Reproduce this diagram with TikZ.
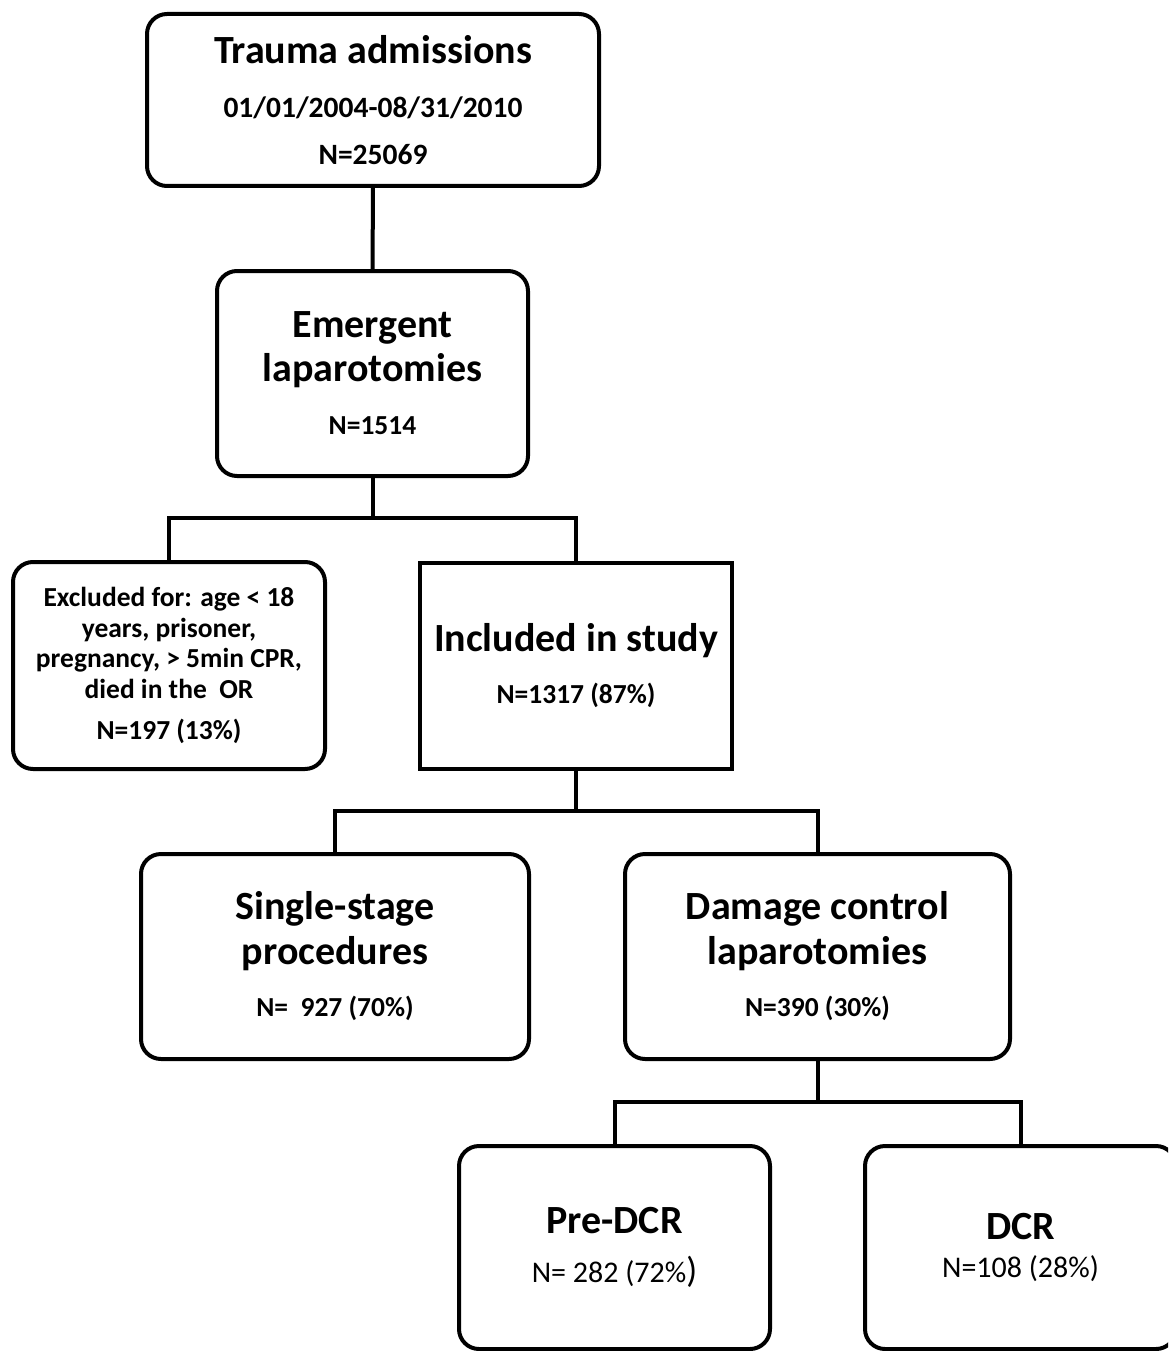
\documentclass[tikz,border=0pt]{standalone}
\usepackage{fontspec}
\setmainfont{Carlito}
\begin{document}
\begin{tikzpicture}[x=1pt,y=-1pt,
  box/.style={draw, line width=4pt, rounded corners=20pt, inner sep=0pt, outer sep=0pt,
    align=center, font=\bfseries\fontsize{40}{46}\selectfont},
  sqbox/.style={box, sharp corners},
  conn/.style={line width=4pt}]
\useasboundingbox (0,0) rectangle (1168,1351);
\clip (0,0) rectangle (1168,1351);
\newcommand\subf{\fontsize{29.5}{34}\selectfont}
\newcommand\smf{\fontsize{27.5}{31}\selectfont}
\newcommand\regf{\mdseries\fontsize{30}{34}\selectfont}

\node[box, minimum width=452pt, minimum height=172pt] (b1) at (373,100)
  {Trauma admissions\\[8pt]{\subf 01/01/2004-08/31/2010}\\[1pt]{\subf N=25069}};
\node[box, minimum width=311pt, minimum height=205pt] (b2) at (372.5,373.5)
  {Emergent\\[-2pt]laparotomies\\[7pt]{\smf N=1514}};
\node[box, minimum width=312pt, minimum height=207pt, font=\bfseries\fontsize{27.5}{30.5}\selectfont] (b3) at (169,665.5)
  {Excluded for: age < 18\\years, prisoner,\\pregnancy, > 5min CPR,\\died in the\ \ OR\\[10.5pt]N=197 (13\%)};
\node[sqbox, minimum width=312pt, minimum height=206pt] (b4) at (576,666)
  {Included in study\\[6pt]{\smf N=1317 (87\%)}};
\node[box, minimum width=388pt, minimum height=205pt] (b5) at (335,956.5)
  {Single-stage\\[-1pt]procedures\\[6pt]{\smf N=\ \ 927 (70\%)}};
\node[box, minimum width=385pt, minimum height=205pt] (b6) at (817.5,956.5)
  {Damage control\\[-1pt]laparotomies\\[6pt]{\smf N=390 (30\%)}};
\node[box, minimum width=311pt, minimum height=203pt] (b7) at (614.5,1247.5)
  {Pre-DCR\\[3pt]{\regf N= 282 (72\%{\fontsize{36}{36}\selectfont )}}};
\node[box, minimum width=311pt, minimum height=203pt] (b8) at (1020.5,1247.5)
  {DCR\\[-8pt]{\regf N=108 (28\%)}};

\draw[conn] (b1.south) -- (b2.north);
\draw[conn] (b2.south) -- ++(0,42) coordinate (j1);
\draw[conn] (b3.north) |- (j1) -| (b4.north);
\draw[conn] (b4.south) -- ++(0,42) coordinate (j2);
\draw[conn] (b5.north) |- (j2) -| (b6.north);
\draw[conn] (b6.south) -- ++(0,43) coordinate (j3);
\draw[conn] (b7.north) |- (j3) -| (b8.north);
\end{tikzpicture}
\end{document}
